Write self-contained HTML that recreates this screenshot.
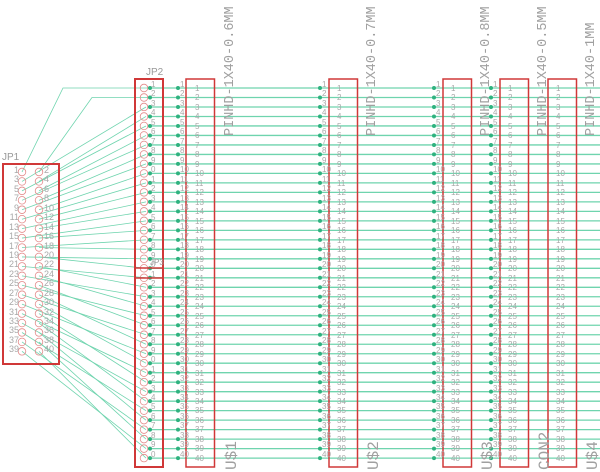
<!DOCTYPE html>
<html><head><meta charset="utf-8"><style>
body{margin:0;background:#fff;width:600px;height:472px;overflow:hidden;position:relative;font-family:"Liberation Sans",sans-serif}
.col{position:absolute;font-size:8px;line-height:9.49px;color:#a8a8a8;white-space:pre}
.vt{position:absolute;color:#a0a0a0;font-family:"Liberation Mono",monospace;font-size:13.5px;transform-origin:0 0;transform:rotate(-90deg);white-space:nowrap}
.lab{position:absolute;color:#999;font-size:10px}
</style></head><body>
<svg id="s" width="600" height="472" style="position:absolute;left:0;top:0"></svg>
<div class="lab" style="left:2px;top:152px">JP1</div>
<div class="lab" style="left:146px;top:67px">JP2</div>
<div class="lab" style="left:150px;top:258px;font-size:8px">JP3</div>
<div class="col" style="left:3px;top:166px;line-height:9.44px;text-align:right;width:16px;font-size:9px">1
3
5
7
9
11
13
15
17
19
21
23
25
27
29
31
33
35
37
39</div>
<div class="col" style="left:44px;top:166px;line-height:9.44px;font-size:9px">2
4
6
8
10
12
14
16
18
20
22
24
26
28
30
32
34
36
38
40</div>
<div class="col" style="left:151px;top:80px">1
2
3
4
5
6
7
8
9
0
1
2
3
4
5
6
7
8
9
0
1
2
3
4
5
6
7
8
9
0
1
2
3
4
5
6
7
8
9
0</div>
<div class="col" style="left:180px;top:80px">1
2
3
4
5
6
7
8
9
10
11
12
13
14
15
16
17
18
19
20
21
22
23
24
25
26
27
28
29
30
31
32
33
34
35
36
37
38
39
40</div>
<div class="col" style="left:195px;top:84px">1
2
3
4
5
6
7
8
9
10
11
12
13
14
15
16
17
18
19
20
21
22
23
24
25
26
27
28
29
30
31
32
33
34
35
36
37
38
39
40</div>
<div class="col" style="left:322px;top:80px">1
2
3
4
5
6
7
8
9
10
11
12
13
14
15
16
17
18
19
20
21
22
23
24
25
26
27
28
29
30
31
32
33
34
35
36
37
38
39
40</div>
<div class="col" style="left:337px;top:84px">1
2
3
4
5
6
7
8
9
10
11
12
13
14
15
16
17
18
19
20
21
22
23
24
25
26
27
28
29
30
31
32
33
34
35
36
37
38
39
40</div>
<div class="col" style="left:436px;top:80px">1
2
3
4
5
6
7
8
9
10
11
12
13
14
15
16
17
18
19
20
21
22
23
24
25
26
27
28
29
30
31
32
33
34
35
36
37
38
39
40</div>
<div class="col" style="left:451px;top:84px">1
2
3
4
5
6
7
8
9
10
11
12
13
14
15
16
17
18
19
20
21
22
23
24
25
26
27
28
29
30
31
32
33
34
35
36
37
38
39
40</div>
<div class="col" style="left:493px;top:80px">1
2
3
4
5
6
7
8
9
10
11
12
13
14
15
16
17
18
19
20
21
22
23
24
25
26
27
28
29
30
31
32
33
34
35
36
37
38
39
40</div>
<div class="col" style="left:508px;top:84px">1
2
3
4
5
6
7
8
9
10
11
12
13
14
15
16
17
18
19
20
21
22
23
24
25
26
27
28
29
30
31
32
33
34
35
36
37
38
39
40</div>
<div class="col" style="left:556px;top:84px">1
2
3
4
5
6
7
8
9
10
11
12
13
14
15
16
17
18
19
20
21
22
23
24
25
26
27
28
29
30
31
32
33
34
35
36
37
38
39
40</div>
<div class="vt" style="left:223px;top:136px">PINHD-1X40-0.6MM</div>
<div class="vt" style="left:365px;top:136px">PINHD-1X40-0.7MM</div>
<div class="vt" style="left:479px;top:136px">PINHD-1X40-0.8MM</div>
<div class="vt" style="left:536px;top:136px">PINHD-1X40-0.5MM</div>
<div class="vt" style="left:584px;top:136px">PINHD-1X40-1MM</div>
<div class="vt" style="left:223px;top:470px;font-size:16px">U$1</div>
<div class="vt" style="left:365px;top:470px;font-size:16px">U$2</div>
<div class="vt" style="left:479px;top:470px;font-size:16px">U$3</div>
<div class="vt" style="left:536px;top:470px;font-size:16px">CON2</div>
<div class="vt" style="left:584px;top:470px;font-size:16px">U$4</div>
<script>
var s=document.getElementById('s'),h='';
var G='#6fd4ae',R='#d03838';
function y(k){return 88+(k-1)*9.49}
for(var k=1;k<=40;k++){
 var yy=y(k);
 h+='<line x1="148" y1="'+yy+'" x2="600" y2="'+yy+'" stroke="'+G+'" stroke-width="1.3"/>';
 var r=Math.floor((k-1)/2), jx=(k%2)?22:39, jy=172+r*9.44;
 if(k==1){h+='<polyline points="'+jx+','+jy+' 63,88 148,88" fill="none" stroke="'+G+'" stroke-width="0.8"/>';}
 else if(k==2){h+='<polyline points="'+jx+','+jy+' 92,97.5 148,97.5" fill="none" stroke="'+G+'" stroke-width="0.8"/>';}
 else h+='<line x1="'+jx+'" y1="'+jy+'" x2="146" y2="'+yy+'" stroke="'+G+'" stroke-width="0.8"/>';
 h+='<circle cx="144" cy="'+yy+'" r="3.8" fill="none" stroke="#e38a8a" stroke-width="0.8"/>';
 [150,178,320,434,491].forEach(function(x){h+='<circle cx="'+x+'" cy="'+yy+'" r="2" fill="#2fb27f"/>';});
}
for(var r=0;r<20;r++){var cy=172+r*9.44;
 h+='<circle cx="22" cy="'+cy+'" r="3.8" fill="none" stroke="#e38a8a" stroke-width="0.8"/><circle cx="39" cy="'+cy+'" r="3.8" fill="none" stroke="#e38a8a" stroke-width="0.8"/>';}
h+='<rect x="3" y="164" width="56" height="200" fill="none" stroke="'+R+'" stroke-width="2"/>';
h+='<rect x="135" y="79" width="28" height="388" fill="none" stroke="'+R+'" stroke-width="2"/>';
h+='<rect x="135" y="268" width="28" height="10" fill="none" stroke="'+R+'" stroke-width="1.5"/>';
[186,329,443,500,548].forEach(function(x){h+='<rect x="'+x+'" y="79" width="28.5" height="388" fill="none" stroke="'+R+'" stroke-width="1.5"/>';});
s.innerHTML=h;
</script>
</body></html>
